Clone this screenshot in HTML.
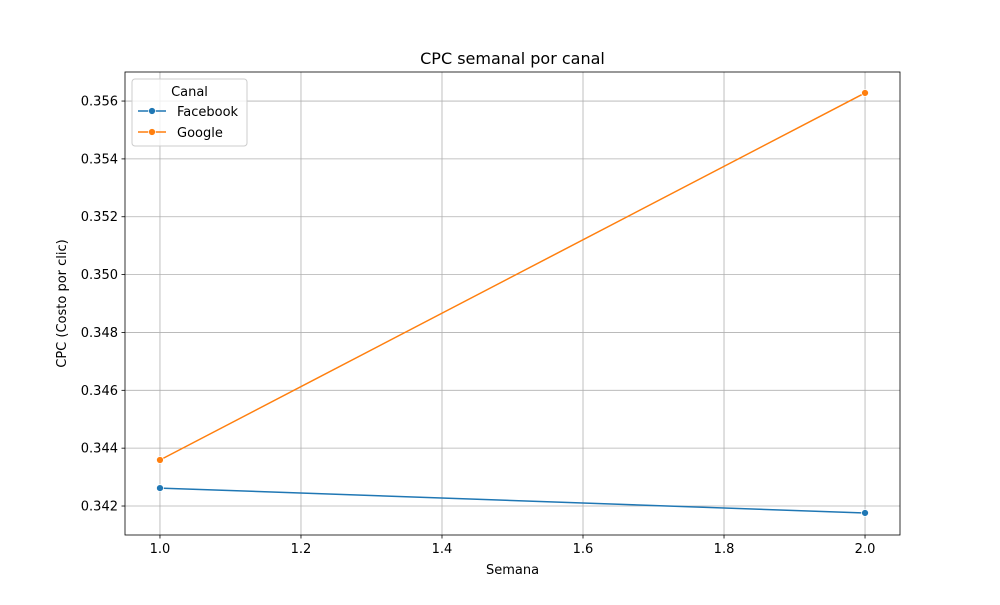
<!DOCTYPE html>
<html><head><meta charset="utf-8"><style>
body{margin:0;background:#fff;font-family:"Liberation Sans","DejaVu Sans",sans-serif}
svg text{font-family:"DejaVu Sans","Liberation Sans",sans-serif}
</style></head><body>
<svg id="chart" width="1000" height="600" xmlns="http://www.w3.org/2000/svg">
<rect width="1000" height="600" fill="#fff"/>
<g id="grid"></g><g id="series"></g><g id="axes"></g>
<text x="512.5" y="64" text-anchor="middle" font-size="16">CPC semanal por canal</text>
<text x="512.5" y="574" text-anchor="middle" font-size="13">Semana</text>
<text transform="translate(66,303.5) rotate(-90)" text-anchor="middle" font-size="13">CPC (Costo por clic)</text>
<g>
<rect x="132" y="79" width="115" height="67" rx="3" fill="#fff" fill-opacity="0.8" stroke="#ccc"/>
<text x="189.5" y="96" text-anchor="middle" font-size="13">Canal</text>
<line x1="138" y1="111" x2="166" y2="111" stroke="#1f77b4" stroke-width="1.5"/><circle cx="152" cy="111" r="3.5" fill="#1f77b4" stroke="#fff" stroke-width="0.75"/>
<text x="177" y="116" font-size="13">Facebook</text>
<line x1="138" y1="132" x2="166" y2="132" stroke="#ff7f0e" stroke-width="1.5"/><circle cx="152" cy="132" r="3.5" fill="#ff7f0e" stroke="#fff" stroke-width="0.75"/>
<text x="177" y="137" font-size="13">Google</text>
</g>
</svg>
<script>
const weeks=[1,2];
const facebookCPC=[0.34262,0.34176];
const googleCPC=[0.34359,0.35628];
const xTicks=[1.0,1.2,1.4,1.6,1.8,2.0];
const yTicks=[0.342,0.344,0.346,0.348,0.350,0.352,0.354,0.356];
const L=125,R=900,T=72,B=535;
const x0=0.9504,x1=2.0496,y0=0.340998,y1=0.357004;
const sx=v=>L+(v-x0)/(x1-x0)*(R-L);
const sy=v=>B-(v-y0)/(y1-y0)*(B-T);
const NS="http://www.w3.org/2000/svg";
function mk(p,tag,at){const e=document.createElementNS(NS,tag);for(const k in at)e.setAttribute(k,at[k]);p.appendChild(e);return e;}
const grid=document.getElementById('grid'),axes=document.getElementById('axes'),ser=document.getElementById('series');
xTicks.forEach(t=>{const x=sx(t);
const g=mk(grid,'line',{x1:x,x2:x,y1:T,y2:B,stroke:'#b0b0b0','stroke-width':0.8});

mk(axes,'line',{x1:x,x2:x,y1:B,y2:B+3.5,stroke:'#000','stroke-width':0.8});
const tx=mk(axes,'text',{x:x,y:B+18,'text-anchor':'middle','font-size':'13'});tx.textContent=t.toFixed(1);
});
yTicks.forEach(t=>{const y=sy(t);
const g=mk(grid,'line',{x1:L,x2:R,y1:y,y2:y,stroke:'#b0b0b0','stroke-width':0.8});

mk(axes,'line',{x1:L-3.5,x2:L,y1:y,y2:y,stroke:'#000','stroke-width':0.8});
const tx=mk(axes,'text',{x:L-7,y:y+4.5,'text-anchor':'end','font-size':'13'});tx.textContent=t.toFixed(3);
});
mk(axes,'rect',{x:L,y:T,width:R-L,height:B-T,fill:'none',stroke:'#000','stroke-width':0.8});
[[facebookCPC,'#1f77b4','facebook'],[googleCPC,'#ff7f0e','google']].forEach(([d,c,n])=>{
const pl=mk(ser,'polyline',{points:weeks.map((w,i)=>sx(w)+','+sy(d[i])).join(' '),fill:'none',stroke:c,'stroke-width':1.5});

weeks.forEach((w,i)=>{const p=mk(ser,'circle',{cx:sx(w),cy:sy(d[i]),r:3.5,fill:c,stroke:'#fff','stroke-width':0.75});
});});
</script>
</body></html>
